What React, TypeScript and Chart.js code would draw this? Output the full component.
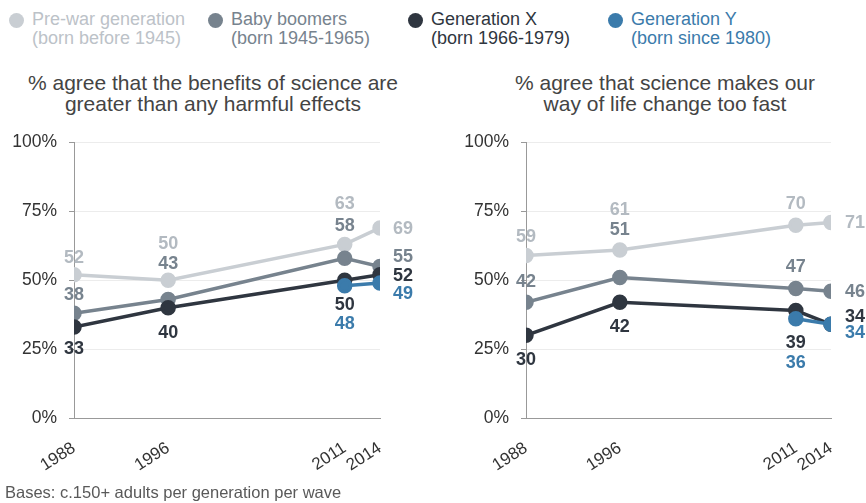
import React, { useEffect, useRef } from "react";
import { Chart, registerables } from "chart.js";
Chart.register(...registerables);

// ---- data ----
const years = [1988, 1996, 2011, 2014];
const genYYears = [2011, 2014];
const yTicks = [0, 25, 50, 75, 100];

const benefitPreWar = [52, 50, 63, 69];
const benefitBoomers = [38, 43, 58, 55];
const benefitGenX = [33, 40, 50, 52];
const benefitGenY = [48, 49];

const fastPreWar = [59, 61, 70, 71];
const fastBoomers = [42, 51, 47, 46];
const fastGenX = [30, 42, 39, 34];
const fastGenY = [36, 34];

const titleBenefits = ["% agree that the benefits of science are", "greater than any harmful effects"];
const titleFast = ["% agree that science makes our", "way of life change too fast"];

const legendItems = [
  { name: "Pre-war generation", sub: "(born before 1945)" },
  { name: "Baby boomers", sub: "(born 1945-1965)" },
  { name: "Generation X", sub: "(born 1966-1979)" },
  { name: "Generation Y", sub: "(born since 1980)" },
];
const footnote = "Bases: c.150+ adults per generation per wave";

// ---- styles ----
const FONT = "'Liberation Sans', Arial, sans-serif";
const lineColors = ["#c9ced3", "#77838e", "#2f3640", "#3b7bab"];
const labelColors = ["#b3bac1", "#77838e", "#2f3640", "#3b7bab"];
const legendTextColors = ["#bcc2c8", "#77838e", "#2f3640", "#3b7bab"];
const legendX = [16, 215, 415, 615];

// label offsets (dx, dy) in pixels relative to the point
const benefitOffsets = [
  [[0, -17], [0, -36], [0, -40], [23, 1]],
  [[0, -18], [0, -36], [0, -32], [23, -9]],
  [[0, 22], [0, 25], [0, 25], [23, 1]],
  [[0, 38], [23, 11]],
];
const fastOffsets = [
  [[0, -18], [0, -40], [0, -21], [24, 1]],
  [[0, -20], [0, -47], [0, -21], [24, 1]],
  [[0, 25], [0, 25], [0, 32], [24, -7]],
  [[0, 44], [24, 9]],
];

function pts(xs: number[], ys: number[]) {
  return xs.map((x, i) => ({ x, y: ys[i] }));
}

const labelPlugin = {
  id: "pointLabels",
  afterDatasetsDraw(chart: any, _args: any, opts: any) {
    const ctx = chart.ctx;
    const offsets = opts.offsets as number[][][];
    ctx.save();
    ctx.font = `bold 18px ${FONT}`;
    ctx.textAlign = "center";
    ctx.textBaseline = "middle";
    chart.data.datasets.forEach((ds: any, di: number) => {
      const meta = chart.getDatasetMeta(di);
      const gi = ds.groupIndex;
      ctx.fillStyle = labelColors[gi];
      meta.data.forEach((el: any, i: number) => {
        const off = offsets[gi][i];
        ctx.fillText(String(ds.data[i].y), el.x + off[0], el.y + off[1]);
      });
    });
    ctx.restore();
  },
};

function Panel(props: {
  left: number;
  width: number;
  axisWidth: number;
  padRight: number;
  series: number[][];
  offsets: number[][][];
}) {
  const ref = useRef<HTMLCanvasElement>(null);
  useEffect(() => {
    const s = props.series;
    const mk = (gi: number, data: any[], order: number) => ({
      label: legendItems[gi].name,
      groupIndex: gi,
      data,
      order,
      borderColor: lineColors[gi],
      backgroundColor: lineColors[gi],
      pointBackgroundColor: lineColors[gi],
      pointBorderColor: lineColors[gi],
      borderWidth: 3.5,
      pointRadius: 6,
      pointHoverRadius: 6,
      tension: 0,
    });
    const chart = new Chart(ref.current as HTMLCanvasElement, {
      type: "line",
      data: {
        datasets: [
          mk(0, pts(years, s[0]), 3),
          mk(1, pts(years, s[1]), 2),
          mk(2, pts(years, s[2]), 1),
          mk(3, pts(genYYears, s[3]), 0),
        ] as any,
      },
      options: {
        animation: false,
        responsive: false,
        events: [],
        layout: { padding: { left: 0, right: props.padRight, top: 21, bottom: 0 } },
        plugins: {
          legend: { display: false },
          tooltip: { enabled: false },
          pointLabels: { offsets: props.offsets },
        } as any,
        scales: {
          x: {
            type: "linear",
            min: 1988,
            max: 2014,
            afterBuildTicks: (sc: any) => {
              sc.ticks = years.map((v) => ({ value: v }));
            },
            afterFit: (sc: any) => {
              sc.height = 85;
              sc.paddingLeft = 0;
              sc.paddingRight = 0;
            },
            grid: { display: false, drawTicks: false },
            border: { display: true, color: "#999999", width: 1 },
            ticks: {
              autoSkip: false,
              minRotation: 33,
              maxRotation: 33,
              padding: 20,
              color: "#333333",
              font: { family: FONT, size: 17 },
              callback: (v: any) => String(v),
            },
          },
          y: {
            min: 0,
            max: 100,
            afterBuildTicks: (sc: any) => {
              sc.ticks = yTicks.map((v) => ({ value: v }));
            },
            afterFit: (sc: any) => {
              sc.width = props.axisWidth;
            },
            grid: {
              color: (c: any) => (c.tick && c.tick.value === 0 ? "#999999" : "#ececec"),
              tickColor: "#999999",
              tickLength: 5,
              lineWidth: 1,
            },
            border: { display: true, color: "#999999", width: 1 },
            ticks: {
              padding: 12,
              color: "#333333",
              font: { family: FONT, size: 17.5 },
              callback: (v: any) => v + "%",
            },
          },
        },
      } as any,
      plugins: [labelPlugin],
    });
    return () => chart.destroy();
  }, []);
  return (
    <canvas
      ref={ref}
      width={props.width}
      height={383}
      style={{ position: "absolute", left: props.left, top: 120, width: props.width, height: 383 }}
    />
  );
}

export default function App() {
  return (
    <div
      style={{
        position: "absolute",
        left: 0,
        top: 0,
        width: 866,
        height: 503,
        background: "#ffffff",
        fontFamily: FONT,
        overflow: "hidden",
      }}
    >
      {legendItems.map((it, i) => (
        <div key={i}>
          <div
            style={{
              position: "absolute",
              left: legendX[i] - 7.5,
              top: 12.5,
              width: 15,
              height: 15,
              borderRadius: "50%",
              background: lineColors[i],
            }}
          />
          <div
            style={{
              position: "absolute",
              left: legendX[i] + 16,
              top: 9.5,
              fontSize: 18,
              lineHeight: "19px",
              color: legendTextColors[i],
              whiteSpace: "nowrap",
            }}
          >
            <div>{it.name}</div>
            <div>{it.sub}</div>
          </div>
        </div>
      ))}
      <div
        style={{
          position: "absolute",
          left: 0,
          width: 426,
          top: 71.5,
          textAlign: "center",
          fontSize: 21,
          lineHeight: "21px",
          color: "#444444",
          whiteSpace: "nowrap",
        }}
      >
        <div>{titleBenefits[0]}</div>
        <div>{titleBenefits[1]}</div>
      </div>
      <div
        style={{
          position: "absolute",
          left: 465,
          width: 400,
          top: 71.5,
          textAlign: "center",
          fontSize: 21,
          lineHeight: "21px",
          color: "#444444",
          whiteSpace: "nowrap",
        }}
      >
        <div>{titleFast[0]}</div>
        <div>{titleFast[1]}</div>
      </div>
      <Panel
        left={0}
        width={430}
        axisWidth={74}
        padRight={50}
        series={[benefitPreWar, benefitBoomers, benefitGenX, benefitGenY]}
        offsets={benefitOffsets}
      />
      <Panel
        left={430}
        width={436}
        axisWidth={96}
        padRight={35}
        series={[fastPreWar, fastBoomers, fastGenX, fastGenY]}
        offsets={fastOffsets}
      />
      <div
        style={{
          position: "absolute",
          left: 5,
          top: 482,
          fontSize: 16.5,
          lineHeight: "20px",
          color: "#595959",
          whiteSpace: "nowrap",
        }}
      >
        {footnote}
      </div>
    </div>
  );
}
